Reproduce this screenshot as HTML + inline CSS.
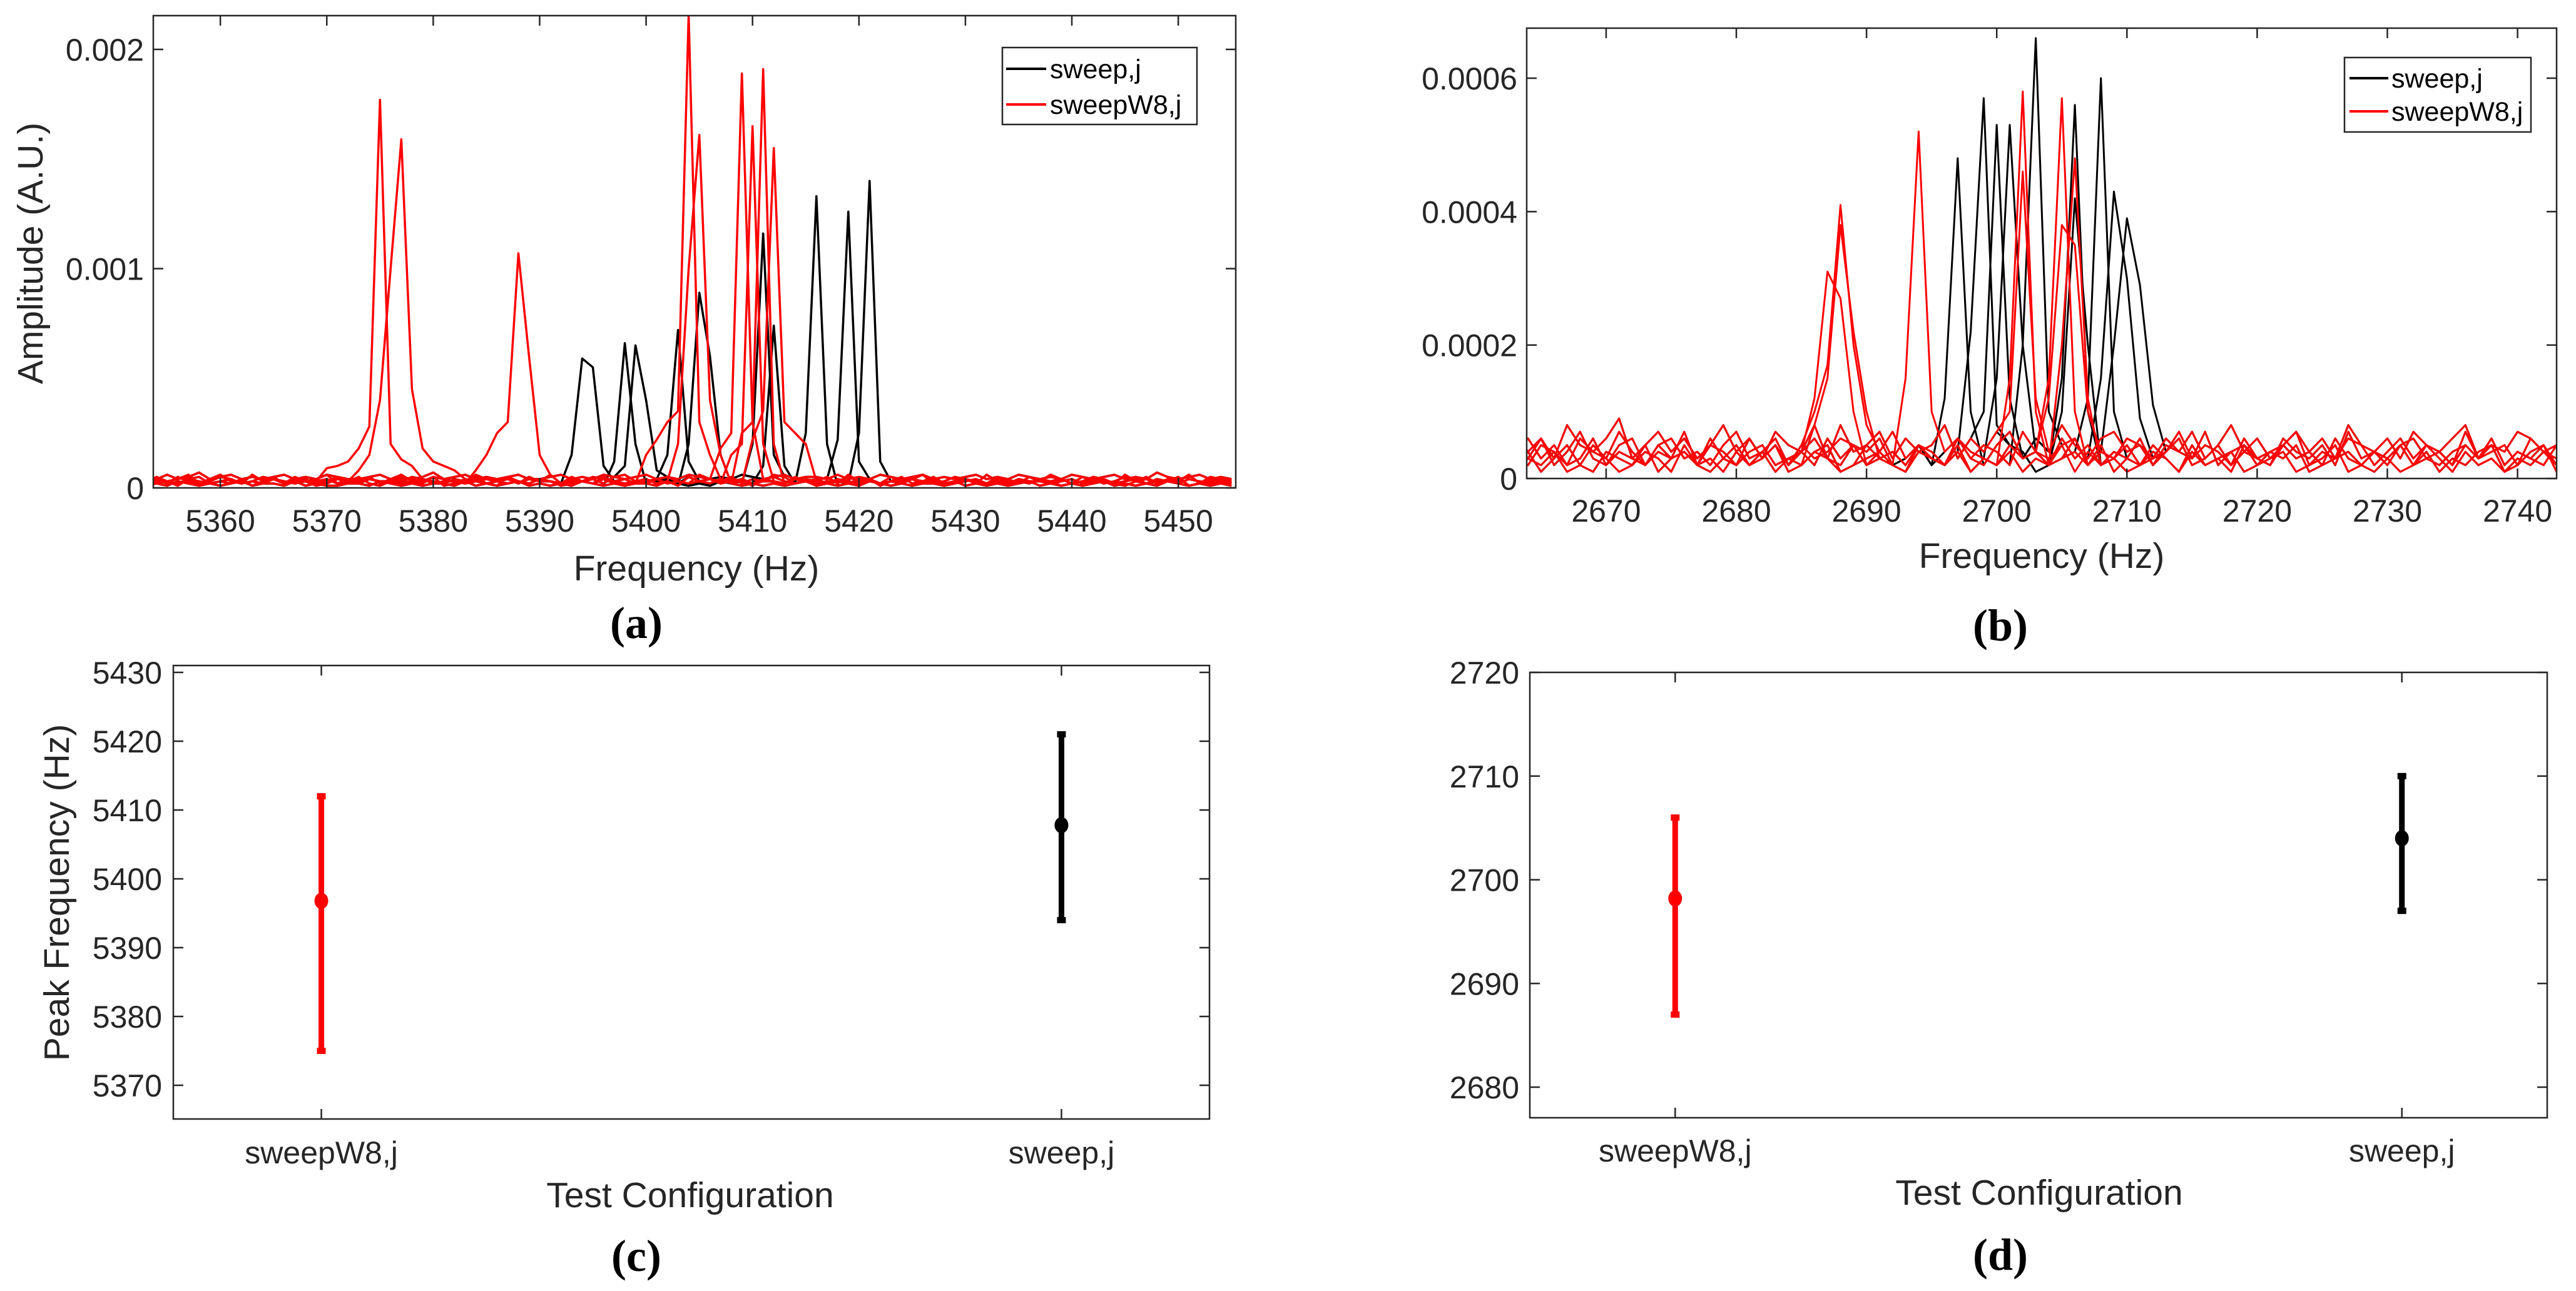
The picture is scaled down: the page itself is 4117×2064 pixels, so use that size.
<!DOCTYPE html>
<html><head><meta charset="utf-8">
<style>
html,body{margin:0;padding:0;background:#fff;}
svg{display:block;}
text{font-family:"Liberation Sans",Arial,sans-serif;fill:#262626;}
.cap{font-family:"Liberation Serif",serif;font-weight:bold;fill:#000;}
</style></head>
<body>
<svg id="fig" width="4117" height="2064" viewBox="0 0 4117 2064" xmlns="http://www.w3.org/2000/svg">
<defs>
<clipPath id="clipA"><rect x="245" y="25" width="1730" height="755"/></clipPath>
<clipPath id="clipB"><rect x="2440" y="45" width="1646" height="720"/></clipPath>
</defs>
<g id="panelA"></g>
<g id="panelB"></g>
<g id="panelC"></g>
<g id="panelD"></g>
</svg>
<script>
// ---------- DATA ----------
// noise floor arrays for panel (a) (units 1e-5 A.U.), one value per Hz
const noise0 = [3,4,2,5,3,2,4,6,3,2,3,5,4,2,3,4,2,3,5,3,2,4,3,2,3,5,4,3,2,4,3,5,2,3,4,2,5,3,3,2,4,3,2,5,3,4,2,3,3,4,2,5,3,2,4,3,3,2,4,5,3,2,3,4,2,3,5,3,4,2,3,2,4,3,5,2,3,4,3,2,4,3,2,5,3,3,4,2,3,4,2,3,5,3,2,4,3,3,6,2,3,4,2,3,5,3,2,4,3,3];
const noise1 = [1,2,1,3,2,1,2,1,2,3,1,2,2,1,3,1,2,1,1,2,2,1,3,2,1,2,1,2,2,1,3,1,2,1,2,3,1,2,1,2,1,3,2,1,2,1,2,2,1,3,2,1,2,1,3,2,1,2,1,2,1,2,3,1,2,1,2,1,3,2,1,2,1,2,2,1,3,1,2,1,2,1,2,3,1,2,1,2,1,2,3,1,2,1,2,1,3,2,1,2,1,2,1,3,2,1,2,1,2,1];
const noise2 = [5,4,6,4,5,7,4,5,6,4,5,4,5,6,4,5,4,6,5,4,4,5,6,4,5,4,5,7,4,5,6,4,5,4,5,6,4,4,5,6,4,5,4,6,5,4,5,6,4,5,4,6,5,4,5,4,6,5,4,5,6,4,5,5,4,6,4,5,4,6,5,4,5,6,4,5,4,5,6,4,5,4,6,5,4,5,4,6,5,4,5,6,4,5,4,7,5,4,5,6,4,5,4,6,5,4,5,4,6,5];
const noise3 = [2,3,3,2,4,3,2,3,4,2,3,2,4,3,2,3,3,4,2,3,2,4,3,3,2,3,4,2,3,3,2,3,4,3,2,3,2,4,3,2,3,3,2,4,3,2,3,3,4,2,3,2,3,4,2,3,4,2,3,3,2,4,3,2,3,3,2,4,3,2,3,3,4,2,3,2,3,4,3,2,3,2,4,3,3,2,3,4,2,3,3,2,3,4,2,3,3,2,4,3,2,3,3,4,2,3,2,3,4,2];
const noise4 = [4,2,3,1,4,5,2,3,2,4,1,3,5,2,4,3,1,2,4,3,5,2,1,3,4,2,3,5,1,2,4,3,2,1,5,3,2,4,3,1,2,3,5,4,2,1,3,4,2,3,1,5,3,2,4,2,3,1,4,3,2,5,3,1,2,4,3,2,4,1,3,5,2,3,4,1,2,3,4,2,5,1,3,2,4,3,1,2,5,3,4,2,1,3,4,2,3,5,1,2,4,3,2,1,3,4,2,5];
const noise5 = [2,5,3,4,6,2,3,5,4,2,6,3,4,2,5,3,4,6,2,4,3,5,2,4,6,3,2,5,4,3,2,6,4,3,5,2,4,3,6,2,5,3,4,2,5,6,3,2,4,5,3,2,6,4,3,5,2,4,3,6,5,2,4,3,5,2,6,3,4,2,5,3,4,6,2,3,5,4,2,6,3,4,2,5,3,6,4,2,3,5,4,2,6,3,5,2,4,3,6,2,5,4,3,2,4,6,3,5,2,4];
// noise floor arrays for panel (b)
const bn0 = [5,3,6,2,4,7,3,2,5,6,2,4,3,7,2,5,4,2,6,3,5,2,4,8,3,2,5,4,6,2,3,5,2,4,6,3,2,5,7,3,4,2,6,3,5,2,4,3,6,2,5,4,3,7,2,4,5,3,2,6,4,3,5,2,7,3,4,2,5,6,3,2,4,5,3,6,2,4,3,5,2,4,3];
const bn1 = [2,4,1,3,5,2,1,4,3,2,5,1,3,4,2,1,3,5,2,4,1,3,2,4,5,1,2,3,4,2,1,5,3,2,4,1,3,2,5,4,1,2,3,4,2,5,1,3,2,4,3,1,5,2,3,4,1,2,4,3,5,1,2,3,4,2,1,3,5,2,4,1,3,2,4,5,1,3,2,4,2,3,1];
const bn2 = [7,4,6,3,8,5,4,6,9,3,5,7,4,6,3,5,8,4,6,3,7,5,4,6,3,8,4,5,7,3,6,4,5,8,3,6,4,7,5,3,6,4,8,5,3,6,7,4,5,3,6,4,7,3,5,8,4,6,3,5,7,4,6,3,8,5,4,6,3,7,5,4,6,8,3,5,4,7,6,4,5,3,6];
const bn3 = [3,2,5,4,2,3,6,2,4,3,2,5,3,4,2,6,3,2,4,5,2,3,4,2,6,3,5,2,3,4,2,5,3,2,6,4,3,2,5,3,4,2,3,6,2,4,3,5,2,3,4,6,2,3,5,2,4,3,2,5,3,4,2,6,3,2,4,3,5,2,3,4,2,5,3,6,2,4,3,2,5,3,4];
const bn4 = [4,6,3,5,2,6,4,3,7,4,2,5,6,3,4,2,5,7,3,4,6,2,5,3,4,6,5,2,4,7,3,5,4,2,6,3,5,4,2,7,4,3,5,6,2,4,3,6,5,2,4,7,3,5,4,2,6,3,4,5,7,2,4,3,6,5,2,4,6,3,5,4,2,7,3,4,5,2,6,4,3,5,4];
const bn5 = [1,3,2,4,1,2,5,3,1,2,4,3,1,5,2,3,1,4,2,3,5,1,2,4,3,1,2,5,3,2,1,4,3,2,5,1,3,2,4,1,3,2,5,1,4,2,3,1,2,5,3,1,4,2,3,1,5,2,3,4,1,2,3,5,1,2,4,3,1,2,5,3,1,4,2,3,1,2,4,5,1,3,2];

// Panel (a) peaks: [freq, amplitude(1e-5)] pairs
const aBlackPeaks = [
 [[5393,15],[5394,59],[5395,55],[5396,10]],
 [[5397,12],[5398,66],[5399,20]],
 [[5398,10],[5399,65],[5400,40],[5401,8]],
 [[5402,15],[5403,72],[5404,12]],
 [[5404,20],[5405,89],[5406,60],[5407,15]],
 [[5410,20],[5411,116],[5412,15]],
 [[5411,10],[5412,74],[5413,10]],
 [[5415,25],[5416,133],[5417,20]],
 [[5418,22],[5419,126],[5420,12]],
 [[5420,25],[5421,140],[5422,12]]
];
const aRedPeaks = [
 [[5370,9],[5371,10],[5372,12],[5373,18],[5374,28],[5375,177],[5376,20],[5377,13],[5378,10]],
 [[5373,8],[5374,15],[5375,40],[5376,100],[5377,159],[5378,45],[5379,18],[5380,12],[5381,10],[5382,8]],
 [[5384,8],[5385,15],[5386,25],[5387,30],[5388,107],[5389,60],[5390,15]],
 [[5400,15],[5401,22],[5402,30],[5403,35],[5404,216],[5405,30],[5406,15]],
 [[5403,20],[5404,100],[5405,161],[5406,40],[5407,15]],
 [[5407,18],[5408,25],[5409,189],[5410,30]],
 [[5408,15],[5409,20],[5410,165],[5411,20]],
 [[5409,25],[5410,30],[5411,191],[5412,20]],
 [[5410,22],[5411,35],[5412,155],[5413,30],[5414,25],[5415,20]]
];
// Panel (b) peaks
const bBlackPeaks = [
 [[2696,12],[2697,48],[2698,10]],
 [[2698,22],[2699,57],[2700,8]],
 [[2699,10],[2700,53],[2701,12]],
 [[2700,15],[2701,53],[2702,20]],
 [[2702,20],[2703,66],[2704,10]],
 [[2705,15],[2706,56],[2707,10]],
 [[2705,10],[2706,42],[2707,20]],
 [[2707,12],[2708,60],[2709,10]],
 [[2708,15],[2709,43],[2710,30],[2711,9]],
 [[2709,20],[2710,39],[2711,29],[2712,11]]
];
const bRedPeaks = [
 [[2686,12],[2687,31],[2688,27],[2689,10]],
 [[2686,10],[2687,17],[2688,41],[2689,20],[2690,8]],
 [[2686,8],[2687,15],[2688,38],[2689,22],[2690,10]],
 [[2693,15],[2694,52],[2695,10]],
 [[2701,15],[2702,58],[2703,10]],
 [[2701,10],[2702,46],[2703,12]],
 [[2704,15],[2705,57],[2706,10]],
 [[2704,12],[2705,38],[2706,35],[2707,10]],
 [[2705,20],[2706,48],[2707,12]]
];
const aXTicks = [5360,5370,5380,5390,5400,5410,5420,5430,5440,5450];
const aYTicks = [0,0.001,0.002];
const aYTickLabels = ["0","0.001","0.002"];
const bXTicks = [2670,2680,2690,2700,2710,2720,2730,2740];
const bYTicks = [0,0.0002,0.0004,0.0006];
const bYTickLabels = ["0","0.0002","0.0004","0.0006"];

const configs = ["sweepW8,j","sweep,j"];
const cMeans = [5396.8,5407.8];
const cLows = [5375,5394];
const cHighs = [5412,5421];
const cYTicks = [5370,5380,5390,5400,5410,5420,5430];
const dMeans = [2698.2,2704];
const dLows = [2687,2697];
const dHighs = [2706,2710];
const dYTicks = [2680,2690,2700,2710,2720];
const seriesColors = ["#ff0000","#000000"];

// ---------- DRAW ----------
const NS = "http://www.w3.org/2000/svg";
function mk(tag, attrs, parent){
  const e = document.createElementNS(NS, tag);
  for (const k in attrs) e.setAttribute(k, attrs[k]);
  parent.appendChild(e);
  return e;
}
const noisesA = [noise0, noise1, noise2, noise3, noise4, noise5];
const noisesB = [bn0, bn1, bn2, bn3, bn4, bn5];

function axesFrame(g, L, R, T, B){
  const f = mk('rect', {x:L, y:T, width:R-L, height:B-T, fill:'none', stroke:'#262626', 'stroke-width':2.5}, g);
  
  
}
function xTicksDraw(g, ticks, labels, xs, T, B, labelY){
  ticks.forEach((t,i)=>{
    const x = xs(t);
    mk('line',{x1:x,y1:B,x2:x,y2:B-16,stroke:'#262626','stroke-width':2.5},g);
    mk('line',{x1:x,y1:T,x2:x,y2:T+16,stroke:'#262626','stroke-width':2.5},g);
    const tx = mk('text',{x:x,y:labelY,'font-size':50,'text-anchor':'middle'},g);
    tx.textContent = labels[i];
    
    
  });
}
function yTicksDraw(g, ticks, labels, ys, L, R, labelX){
  ticks.forEach((t,i)=>{
    const y = ys(t);
    mk('line',{x1:L,y1:y,x2:L+16,y2:y,stroke:'#262626','stroke-width':2.5},g);
    mk('line',{x1:R,y1:y,x2:R-16,y2:y,stroke:'#262626','stroke-width':2.5},g);
    const tx = mk('text',{x:labelX,y:y+18,'font-size':50,'text-anchor':'end'},g);
    tx.textContent = labels[i];
    
    
  });
}
function label(g, txt, x, y, size, name, rot, cls){
  const t = mk('text',{x:x,y:y,'font-size':size,'text-anchor':'middle'},g);
  if (rot) t.setAttribute('transform','rotate(-90 '+x+' '+y+')');
  if (cls) t.setAttribute('class', cls);
  t.textContent = txt;
  
  
  return t;
}

function spectrum(g, clip, L,R,T,B, f0,f1, ymax, nPts, noises, blackPeaks, redPeaks, sw){
  const xs = f => L + (f-f0)/(f1-f0)*(R-L);
  const ys = v => B - v/ymax*(B-T);
  const fStart = Math.floor(f0);
  const tg = mk('g',{'clip-path':'url(#'+clip+')'},g);
  function trace(peaks, nz, color, name){
    const map = {};
    peaks.forEach(p=>{ map[p[0]] = p[1]; });
    let d = '';
    for (let i=0;i<nPts;i++){
      const f = fStart + i;
      const v = (map[f] !== undefined ? map[f] : nz[i % nz.length]) * 1e-5;
      d += (i?'L':'M') + xs(f).toFixed(1) + ' ' + ys(v).toFixed(1);
    }
    const p = mk('path',{d:d,fill:'none',stroke:color,'stroke-width':sw,'stroke-linejoin':'round'},tg);
    
    
  }
  blackPeaks.forEach((pk,k)=>trace(pk,noises[k % noises.length],'#000000','sweep-trace'));
  redPeaks.forEach((pk,k)=>trace(pk,noises[(k+3) % noises.length],'#ff0000','sweepw8-trace'));
  return {xs, ys};
}

function legend(g, x, y, w, h, rows, lineX1, lineX2, textX){
  const r = mk('rect',{x:x,y:y,width:w,height:h,fill:'#fff',stroke:'#262626','stroke-width':2.5},g);
  
  
  [['sweep,j','#000'],['sweepW8,j','#ff0000']].forEach((e,i)=>{
    const ly = rows[i];
    mk('line',{x1:lineX1,y1:ly,x2:lineX2,y2:ly,stroke:e[1],'stroke-width':4},g);
    const t = mk('text',{x:textX,y:ly+15,'font-size':43,'text-anchor':'start'},g);
    t.setAttribute('style','fill:#000');
    t.textContent = e[0];
    
    
  });
}

// Panel A
(function(){
  const g = document.getElementById('panelA');
  const L=245,R=1975,T=25,B=780;
  const s = spectrum(g,'clipA',L,R,T,B,5353.7,5455.4,0.002154,103,noisesA,aBlackPeaks,aRedPeaks,3.5);
  axesFrame(g,L,R,T,B);
  xTicksDraw(g,aXTicks,aXTicks.map(String),s.xs,T,B,850);
  yTicksDraw(g,aYTicks,aYTickLabels,s.ys,L,R,230);
  label(g,'Frequency (Hz)',1113,928,57,'x-axis-title');
  label(g,'Amplitude (A.U.)',68,405,57,'y-axis-title',true);
  label(g,'(a)',1017,1020,72,'caption-a',false,'cap');
  legend(g,1602,76,311,123,[110,167],1608,1672,1678);
})();
// Panel B
(function(){
  const g = document.getElementById('panelB');
  const L=2440,R=4086,T=45,B=765;
  const s = spectrum(g,'clipB',L,R,T,B,2663.9,2743.0,0.000675,81,noisesB,bBlackPeaks,bRedPeaks,3);
  axesFrame(g,L,R,T,B);
  xTicksDraw(g,bXTicks,bXTicks.map(String),s.xs,T,B,834);
  yTicksDraw(g,bYTicks,bYTickLabels,s.ys,L,R,2425);
  label(g,'Frequency (Hz)',3263,908,57,'x-axis-title');
  label(g,'(b)',3197,1024,72,'caption-b',false,'cap');
  legend(g,3747,92,298,119,[125,178],3755,3817,3822);
})();

function errPanel(g, L,R,T,B, y0,y1, means, lows, highs, ticks, labelX, catY, titleX, titleY, capTxt, capX, capY){
  const xs = c => L + (c-0.8)/(2.2-0.8)*(R-L);
  const ys = v => B - (v-y0)/(y1-y0)*(B-T);
  axesFrame(g,L,R,T,B);
  configs.forEach((c,i)=>{
    const x = xs(i+1);
    mk('line',{x1:x,y1:B,x2:x,y2:B-16,stroke:'#262626','stroke-width':2.5},g);
    mk('line',{x1:x,y1:T,x2:x,y2:T+16,stroke:'#262626','stroke-width':2.5},g);
    const t = mk('text',{x:x,y:catY,'font-size':50,'text-anchor':'middle'},g);
    t.textContent = c;
    
    
    const col = seriesColors[i];
    const bar = mk('line',{x1:x,y1:ys(lows[i]),x2:x,y2:ys(highs[i]),stroke:col,'stroke-width':9},g);
    
    
    mk('rect',{x:x-7,y:ys(highs[i])-5,width:14,height:10,fill:col},g);
    mk('rect',{x:x-7,y:ys(lows[i])-5,width:14,height:10,fill:col},g);
    const m = mk('ellipse',{cx:x,cy:ys(means[i]),rx:11,ry:13,fill:col},g);
    
    
  });
  yTicksDraw(g,ticks,ticks.map(String),ys,L,R,labelX);
  label(g,'Test Configuration',titleX,titleY,57,'x-axis-title');
  label(g,capTxt,capX,capY,72,'caption',false,'cap');
}
errPanel(document.getElementById('panelC'),277,1933,1064,1789,5365.1,5431,cMeans,cLows,cHighs,cYTicks,259,1860,1103,1930,'(c)',1017,2032);
label(document.getElementById('panelC'),'Peak Frequency (Hz)',110,1427,57,'y-axis-title',true);
errPanel(document.getElementById('panelD'),2445,4071,1075,1787,2677.05,2720,dMeans,dLows,dHighs,dYTicks,2428,1857,3259,1926,'(d)',3197,2030);
</script>
</body></html>
